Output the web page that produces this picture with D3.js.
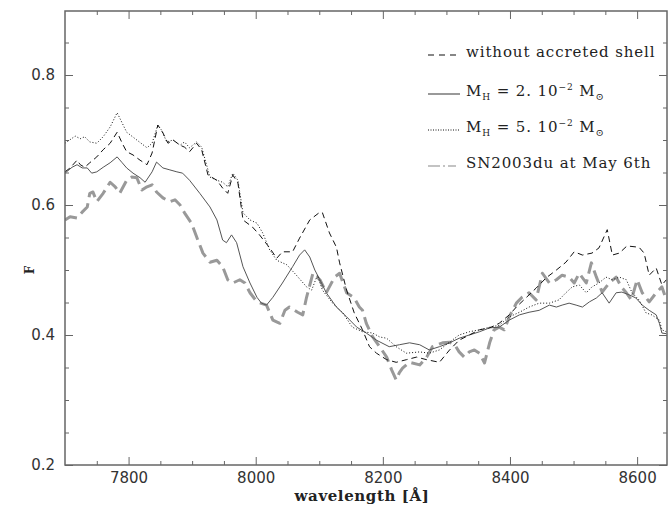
<!DOCTYPE html>
<html>
<head>
<meta charset="utf-8">
<script src="https://cdn.jsdelivr.net/npm/d3@7/dist/d3.min.js"></script>
<style>
  html, body { margin: 0; padding: 0; background: #fff; }
  svg { display: block; }
</style>
</head>
<body>
<svg id="chart" width="668" height="507"></svg>
<script>
// ---------------- DATA ----------------
const xMajorTicks = [7800, 8000, 8200, 8400, 8600];
const yMajorTicks = [0.2, 0.4, 0.6, 0.8];

// Model without accreted shell (black dashed)
const noShellWave = [7700,7708,7719,7724,7731,7739,7750,7760,7771,7782,7790,7797,7807,7818,7829,7837,7846,7854,7862,7870,7881,7888,7896,7907,7915,7925,7939,7948,7956,7964,7972,7980,7995,8006,8022,8033,8042,8058,8069,8085,8101,8105,8116,8127,8132,8143,8155,8168,8179,8190,8206,8221,8237,8253,8269,8289,8305,8320,8336,8352,8368,8383,8399,8410,8426,8441,8457,8473,8488,8501,8514,8529,8540,8553,8561,8572,8584,8603,8611,8619,8630,8639,8646];
const noShellFlux = [.651,.657,.669,.662,.658,.665,.674,.685,.695,.712,.695,.682,.677,.669,.662,.680,.723,.711,.695,.700,.692,.689,.682,.695,.685,.646,.638,.626,.618,.646,.634,.577,.566,.554,.534,.518,.528,.528,.549,.577,.589,.588,.557,.535,.511,.469,.434,.408,.382,.372,.362,.358,.362,.366,.362,.358,.377,.392,.400,.408,.411,.418,.431,.443,.458,.472,.488,.500,.512,.528,.523,.526,.534,.562,.523,.526,.537,.535,.526,.492,.503,.477,.485];

// Model M_H = 2e-2 Msun (gray solid)
const mh2Wave = [7700,7711,7719,7727,7735,7742,7750,7760,7771,7782,7790,7797,7807,7818,7826,7837,7844,7854,7865,7876,7885,7896,7912,7928,7939,7948,7954,7962,7970,7980,7991,8002,8009,8017,8027,8042,8058,8069,8077,8085,8093,8101,8111,8127,8143,8159,8174,8190,8210,8226,8242,8258,8273,8289,8305,8320,8336,8352,8368,8383,8399,8415,8430,8446,8462,8473,8482,8493,8504,8514,8525,8536,8545,8556,8567,8576,8587,8598,8608,8619,8630,8635,8639,8646];
const mh2Flux = [.649,.658,.662,.657,.657,.649,.651,.658,.665,.674,.665,.657,.649,.642,.635,.651,.666,.657,.654,.651,.649,.638,.618,.597,.577,.546,.542,.554,.542,.505,.480,.458,.449,.446,.458,.480,.505,.523,.531,.520,.500,.485,.465,.443,.428,.412,.403,.392,.382,.385,.388,.385,.377,.382,.388,.395,.400,.405,.411,.412,.423,.431,.435,.438,.446,.443,.446,.449,.446,.443,.451,.457,.465,.449,.465,.466,.462,.457,.446,.438,.431,.418,.403,.402];

// Model M_H = 5e-2 Msun (black dotted)
const mh5Wave = [7700,7716,7724,7731,7739,7750,7760,7771,7782,7790,7797,7813,7829,7837,7846,7852,7860,7870,7881,7888,7896,7907,7915,7928,7939,7948,7956,7964,7972,7980,7991,8002,8011,8022,8033,8049,8064,8080,8088,8097,8105,8121,8137,8152,8168,8184,8195,8206,8221,8237,8258,8273,8289,8305,8320,8336,8352,8368,8383,8399,8415,8430,8446,8462,8477,8488,8498,8509,8520,8529,8540,8551,8561,8572,8583,8592,8603,8614,8623,8635,8639,8646];
const mh5Flux = [.695,.706,.702,.705,.697,.695,.705,.720,.742,.726,.712,.700,.688,.695,.723,.715,.697,.700,.692,.697,.688,.697,.689,.643,.638,.635,.628,.649,.638,.588,.577,.572,.557,.531,.515,.508,.492,.474,.469,.492,.469,.449,.434,.412,.405,.403,.397,.395,.382,.372,.374,.372,.377,.389,.400,.405,.408,.412,.415,.428,.435,.443,.449,.449,.454,.465,.474,.477,.465,.474,.480,.489,.485,.489,.485,.465,.454,.434,.431,.423,.408,.405];

// Observed SN2003du at May 6th (thick gray dashed)
const snWave = [7700,7708,7719,7727,7735,7739,7744,7750,7760,7771,7779,7786,7797,7805,7813,7821,7829,7837,7844,7854,7865,7873,7881,7888,7899,7907,7917,7928,7939,7948,7956,7964,7975,7983,7991,8002,8017,8027,8038,8046,8053,8066,8074,8080,8090,8101,8111,8124,8132,8143,8155,8163,8168,8174,8184,8195,8206,8214,8221,8226,8231,8242,8258,8269,8278,8294,8305,8313,8320,8328,8336,8344,8352,8360,8368,8375,8383,8391,8399,8410,8419,8430,8441,8451,8462,8473,8482,8493,8501,8509,8520,8528,8536,8545,8556,8567,8575,8583,8591,8600,8608,8619,8630,8639,8646];
const snFlux = [.577,.582,.580,.589,.597,.618,.620,.605,.618,.635,.628,.618,.638,.643,.642,.623,.628,.631,.620,.611,.605,.608,.600,.588,.572,.551,.526,.512,.515,.505,.485,.480,.485,.480,.465,.451,.446,.423,.418,.438,.443,.435,.431,.458,.495,.485,.465,.489,.495,.465,.457,.443,.438,.418,.397,.382,.366,.346,.331,.342,.349,.358,.354,.366,.382,.388,.389,.385,.374,.366,.374,.377,.372,.357,.388,.408,.412,.408,.428,.449,.458,.465,.454,.495,.480,.485,.492,.489,.480,.495,.480,.511,.489,.466,.480,.489,.474,.465,.454,.485,.465,.451,.465,.474,.454];

const legendLabels = ["without accreted shell", "M_H = 2. 10^-2 M_o", "M_H = 5. 10^-2 M_o", "SN2003du at May 6th"];

// ---------------- CHART ----------------
const svg = d3.select("#chart");
const L = 65, R = 667, T = 11, B = 465;
const x = d3.scaleLinear().domain([7700, 8647]).range([L, R]);
const y = d3.scaleLinear().domain([0.2, 0.9]).range([B, 10]);

const xMinor = d3.range(7750, 8647, 50).filter(v => v % 200 !== 0);
const yMinor = d3.range(0.25, 0.9, 0.05).map(v => +v.toFixed(2)).filter(v => Math.abs(v*5 - Math.round(v*5)) > 1e-6);

const axisColor = "#666";
function styleAxis(g) {
  g.select(".domain").remove();
  g.selectAll(".tick line").attr("stroke", axisColor).attr("stroke-width", 1);
  g.selectAll(".tick text").attr("fill", "#333")
    .style("font-family", "'DejaVu Sans', sans-serif").style("font-size", "15px");
}

// bottom
svg.append("g").attr("transform", `translate(0,${B})`)
  .call(d3.axisBottom(x).tickValues(xMajorTicks).tickSize(-8).tickPadding(7).tickFormat(d3.format("d")))
  .call(styleAxis);
svg.append("g").attr("transform", `translate(0,${B})`)
  .call(d3.axisBottom(x).tickValues(xMinor).tickSize(-4).tickFormat(""))
  .call(styleAxis);
// top
svg.append("g").attr("transform", `translate(0,${T})`)
  .call(d3.axisTop(x).tickValues(xMajorTicks).tickSize(-8).tickFormat(""))
  .call(styleAxis);
svg.append("g").attr("transform", `translate(0,${T})`)
  .call(d3.axisTop(x).tickValues(xMinor).tickSize(-4).tickFormat(""))
  .call(styleAxis);
// left
svg.append("g").attr("transform", `translate(${L},0)`)
  .call(d3.axisLeft(y).tickValues(yMajorTicks).tickSize(-8).tickPadding(10).tickFormat(d3.format(".1f")))
  .call(styleAxis);
svg.append("g").attr("transform", `translate(${L},0)`)
  .call(d3.axisLeft(y).tickValues(yMinor).tickSize(-4).tickFormat(""))
  .call(styleAxis);
// right
svg.append("g").attr("transform", `translate(${R},0)`)
  .call(d3.axisRight(y).tickValues(yMajorTicks).tickSize(-8).tickFormat(""))
  .call(styleAxis);
svg.append("g").attr("transform", `translate(${R},0)`)
  .call(d3.axisRight(y).tickValues(yMinor).tickSize(-4).tickFormat(""))
  .call(styleAxis);

// clip
svg.append("clipPath").attr("id", "clip").append("rect")
  .attr("x", L).attr("y", T).attr("width", R - L).attr("height", B - T);

const line = d3.line().x(d => x(d[0])).y(d => y(d[1]));
const zip = (a, b) => a.map((v, i) => [v, b[i]]);

const series = [
  { data: zip(snWave, snFlux), color: "#999", width: 3, dash: "13,6" },
  { data: zip(mh2Wave, mh2Flux), color: "#555", width: 1, dash: null },
  { data: zip(mh5Wave, mh5Flux), color: "#111", width: 1, dash: "1,2" },
  { data: zip(noShellWave, noShellFlux), color: "#111", width: 1, dash: "6,4" }
];

const plot = svg.append("g").attr("clip-path", "url(#clip)");
series.forEach(s => {
  plot.append("path").attr("d", line(s.data))
    .attr("fill", "none").attr("stroke", s.color).attr("stroke-width", s.width)
    .attr("stroke-dasharray", s.dash).attr("stroke-linejoin", "round");
});

// frame
svg.append("rect").attr("x", L).attr("y", T).attr("width", R - L).attr("height", B - T)
  .attr("fill", "none").attr("stroke", axisColor).attr("stroke-width", 1.5);

// axis titles
svg.append("text").attr("x", (L + R) / 2 - 4).attr("y", 501).attr("text-anchor", "middle")
  .style("font-family", "'DejaVu Serif', serif").style("font-size", "15px").style("font-weight", "bold")
  .style("letter-spacing", "0.6px")
  .attr("fill", "#222").text("wavelength [Å]");
svg.append("text").attr("transform", `translate(34,${y(0.5)}) rotate(-90)`).attr("text-anchor", "middle")
  .style("font-family", "'DejaVu Serif', serif").style("font-size", "12px").style("font-weight", "bold")
  .attr("fill", "#222").text("F");

// legend
const legendStyles = [
  { color: "#111", width: 1.2, dash: "6,5" },
  { color: "#555", width: 1.2, dash: null },
  { color: "#111", width: 1, dash: "1,1.5" },
  { color: "#888", width: 1.2, dash: "12,3,2,3,8" }
];
const legRows = [52, 91, 127, 163];
const lg = svg.append("g").style("font-family", "'DejaVu Serif', serif").style("font-size", "15px")
  .style("letter-spacing", "0.9px").attr("fill", "#222");
legendLabels.forEach((lab, i) => {
  const yy = legRows[i];
  lg.append("line").attr("x1", 428).attr("x2", 460).attr("y1", yy + 3).attr("y2", yy + 3)
    .attr("stroke", legendStyles[i].color).attr("stroke-width", legendStyles[i].width)
    .attr("stroke-dasharray", legendStyles[i].dash);
  const t = lg.append("text").attr("x", 466).attr("y", yy + 5).attr("xml:space", "preserve");
  if (lab.startsWith("M_H")) {
    const num = lab.slice(6, 8); // "2." or "5."
    t.append("tspan").text("M");
    t.append("tspan").attr("dy", 4).style("font-size", "9px").text("H");
    t.append("tspan").attr("dy", -4).text(" = " + num + " 10");
    t.append("tspan").attr("dy", -6).style("font-size", "9px").text("−2");
    t.append("tspan").attr("dy", 6).text(" M");
    t.append("tspan").attr("dy", 4).style("font-size", "10px").text("⊙");
  } else {
    t.text(lab);
  }
});
</script>
</body>
</html>
